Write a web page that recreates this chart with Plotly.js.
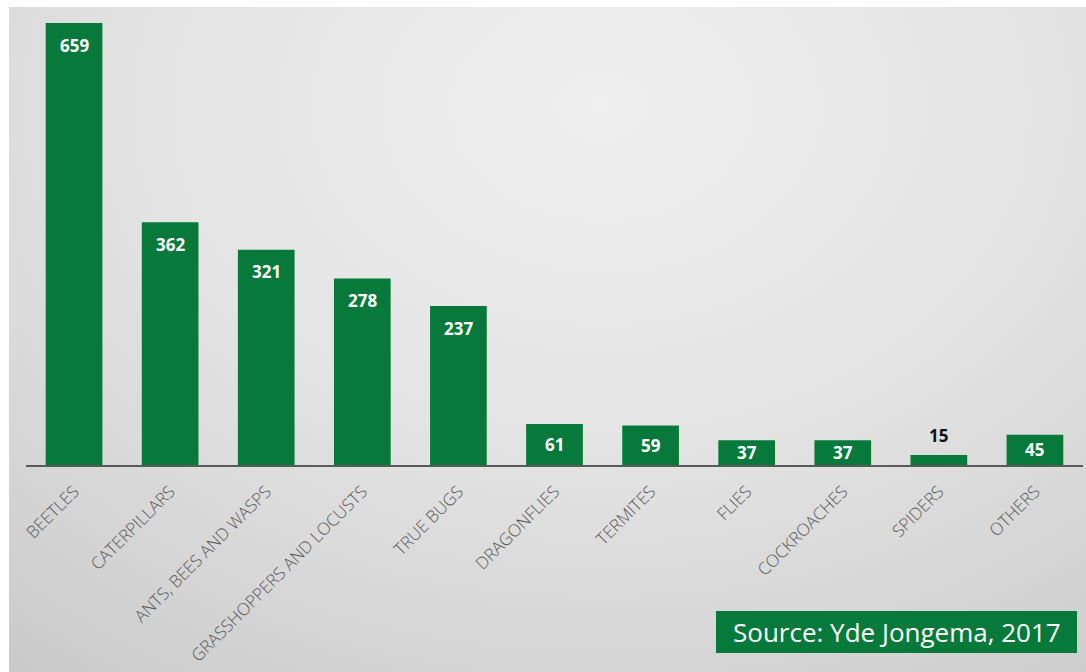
<!DOCTYPE html>
<html>
<head>
<meta charset="utf-8">
<script src="https://cdn.plot.ly/plotly-3.0.1.min.js"></script>
<style>
  html, body { margin: 0; padding: 0; background: #ffffff; width: 1086px; height: 672px; overflow: hidden; }
  #bg { position: absolute; left: 9px; top: 7px; width: 1077px; height: 665px;
        background: radial-gradient(ellipse 90% 110% at 55% 15%, #efefef 0%, #e4e4e4 45%, #d6d6d6 75%, #c9c9c9 100%); }
  #chart { position: absolute; left: 0; top: 0; width: 1086px; height: 672px; }
</style>
</head>
<body>
<div id="bg"></div>
<div id="chart"></div>
<script>
const categories = ["BEETLES", "CATERPILLARS", "ANTS, BEES AND WASPS", "GRASSHOPPERS AND LOCUSTS",
  "TRUE BUGS", "DRAGONFLIES", "TERMITES", "FLIES", "COCKROACHES", "SPIDERS", "OTHERS"];
const values = [659, 362, 321, 278, 237, 61, 59, 37, 37, 15, 45];
const sourceText = "Source: Yde Jongema, 2017";

const green = "#077a3b";
const yMax = 680;
const plotH = 456;
const pxPerUnit = plotH / yMax;

const annotations = values.map((v, i) => {
  const hpx = v * pxPerUnit;
  const outside = hpx < 16;
  return {
    x: categories[i], y: v, xref: "x", yref: "y",
    text: String(v), showarrow: false,
    xanchor: "center", yanchor: "middle",
    yshift: outside ? 19 : -Math.min(22, hpx / 2),
    font: { family: "Open Sans, sans-serif", size: 17, color: outside ? "#111111" : "#ffffff", weight: 700 }
  };
});

annotations.push({
  xref: "paper", yref: "paper", x: (897 - 26) / 1057, y: -0.366,
  xanchor: "center", yanchor: "middle", showarrow: false,
  text: sourceText,
  font: { family: "Open Sans, sans-serif", size: 26, color: "#ffffff" }
});

const data = [{
  type: "bar",
  x: categories,
  y: values,
  marker: { color: green },
  hoverinfo: "skip"
}];

const layout = {
  width: 1086, height: 672,
  margin: { l: 26, r: 3, t: 9, b: 207 },
  paper_bgcolor: "rgba(0,0,0,0)",
  plot_bgcolor: "rgba(0,0,0,0)",
  bargap: 0.41,
  showlegend: false,
  xaxis: {
    type: "category",
    tickangle: -45,
    showline: true, linecolor: "#595959", linewidth: 2,
    ticks: "", showgrid: false, zeroline: false,
    ticklabelstandoff: 8,
    tickfont: { family: "Open Sans, sans-serif", size: 17, color: "#595959", weight: 300 }
  },
  yaxis: {
    range: [0, yMax], visible: false, showgrid: false, zeroline: false, fixedrange: true
  },
  shapes: [{
    type: "rect", xref: "paper", yref: "paper",
    x0: (716 - 26) / 1057, x1: (1077 - 26) / 1057,
    y0: (465 - 653) / plotH, y1: (465 - 611) / plotH,
    fillcolor: green, line: { width: 0 }, layer: "below"
  }],
  annotations: annotations
};

Plotly.newPlot("chart", data, layout, { displayModeBar: false, staticPlot: true });
</script>
</body>
</html>
